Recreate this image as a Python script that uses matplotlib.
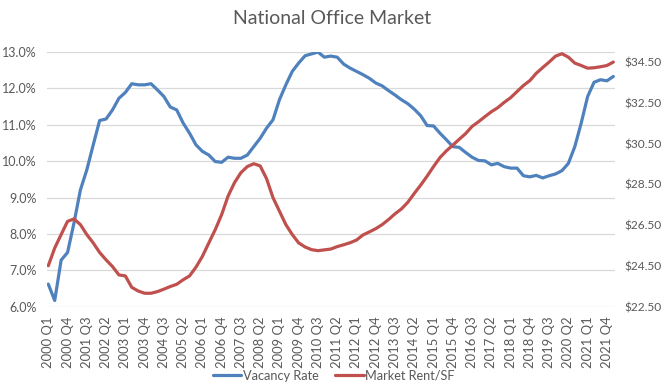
import matplotlib
matplotlib.use("Agg")
import matplotlib.pyplot as plt
from matplotlib.ticker import FuncFormatter

plt.rcParams['font.family'] = ['Lato', 'DejaVu Sans']

# quarters 2000 Q1 .. 2022 Q1
quarters = [f"{y} Q{q}" for y in range(2000, 2023) for q in range(1, 5)][:89]

vacancy_rate = [
    6.62, 6.17, 7.28, 7.49, 8.30, 9.21, 9.76, 10.45, 11.12, 11.16,
    11.41, 11.73, 11.89, 12.13, 12.10, 12.10, 12.13, 11.96, 11.78, 11.49,
    11.41, 11.05, 10.77, 10.45, 10.27, 10.17, 9.99, 9.97, 10.11, 10.08,
    10.08, 10.17, 10.40, 10.63, 10.91, 11.14, 11.69, 12.10, 12.47, 12.70,
    12.90, 12.95, 13.00, 12.86, 12.89, 12.86, 12.67, 12.56, 12.47, 12.38,
    12.28, 12.15, 12.07, 11.94, 11.82, 11.69, 11.58, 11.43, 11.25, 10.98,
    10.97, 10.77, 10.59, 10.40, 10.38, 10.24, 10.11, 10.02, 10.01, 9.90,
    9.94, 9.85, 9.81, 9.81, 9.60, 9.57, 9.61, 9.54, 9.60, 9.65,
    9.74, 9.94, 10.40, 11.05, 11.78, 12.17, 12.24, 12.21, 12.33,
]

market_rent = [
    24.51, 25.38, 26.04, 26.69, 26.81, 26.53, 26.04, 25.63, 25.16, 24.80,
    24.47, 24.06, 24.01, 23.45, 23.27, 23.16, 23.16, 23.24, 23.36, 23.49,
    23.60, 23.82, 24.01, 24.44, 24.97, 25.63, 26.28, 27.02, 27.93, 28.59,
    29.08, 29.38, 29.52, 29.41, 28.78, 27.85, 27.19, 26.53, 26.04, 25.63,
    25.43, 25.30, 25.25, 25.29, 25.33, 25.45, 25.54, 25.64, 25.77, 26.02,
    26.17, 26.33, 26.53, 26.78, 27.06, 27.30, 27.63, 28.06, 28.47, 28.91,
    29.38, 29.82, 30.15, 30.43, 30.72, 31.00, 31.35, 31.58, 31.83, 32.07,
    32.27, 32.53, 32.76, 33.06, 33.36, 33.60, 33.96, 34.24, 34.51, 34.80,
    34.92, 34.75, 34.46, 34.34, 34.21, 34.23, 34.28, 34.34, 34.51,
]

left_ticks = [6, 7, 8, 9, 10, 11, 12, 13]
right_ticks = [22.5, 24.5, 26.5, 28.5, 30.5, 32.5, 34.5]

BLUE = "#4F81BD"
RED = "#C0504D"
TEXT = "#595959"
GRID = "#D9D9D9"

fig = plt.figure(figsize=(6.64, 3.89), dpi=100)
ax = fig.add_axes([0.0703, 0.2116, 0.8558, 0.6545])
ax2 = ax.twinx()

x = list(range(len(quarters)))
l1, = ax.plot(x, vacancy_rate, color=BLUE, lw=2.3, solid_capstyle='round', label="Vacancy Rate")
l2, = ax2.plot(x, market_rent, color=RED, lw=2.3, solid_capstyle='round', label="Market Rent/SF")

# small margin so the line ends sit just inside the plot like the original
ax.set_xlim(-0.25, len(quarters) - 0.75)
ax.set_ylim(6, 13)
ax2.set_ylim(22.5, 35.0)

ax.set_yticks(left_ticks)
ax.yaxis.set_major_formatter(FuncFormatter(lambda v, p: f"{v:.1f}%"))
ax2.set_yticks(right_ticks)
ax2.yaxis.set_major_formatter(FuncFormatter(lambda v, p: f"${v:.2f}"))

ax.set_xticks(x[::3])
ax.set_xticklabels(quarters[::3], rotation=90)

ax.grid(axis='y', color=GRID, lw=0.9)
ax.set_axisbelow(True)
for a in (ax, ax2):
    for s in a.spines.values():
        s.set_visible(False)
    a.tick_params(length=0, labelsize=9, colors=TEXT)
ax.tick_params(axis='y', pad=7)
ax.tick_params(axis='x', pad=7, labelsize=9.4)
ax2.tick_params(axis='y', pad=7, labelsize=8.6)

fig.suptitle("National Office Market", y=0.975, fontsize=14, color=TEXT)

fig.legend(handles=[l1, l2], loc='center', bbox_to_anchor=(0.503, 0.034),
           ncol=2, frameon=False, fontsize=9.2, labelcolor=TEXT,
           handlelength=2.2, handletextpad=0.15, columnspacing=1.3)

fig.savefig("out.png", dpi=100)
